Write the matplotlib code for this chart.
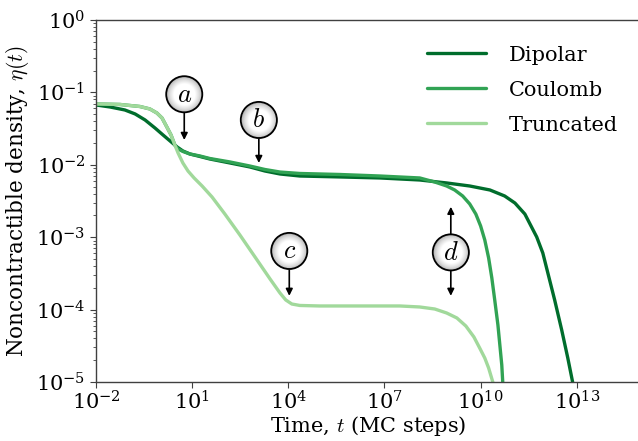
import numpy as np
import matplotlib
matplotlib.use('Agg')
import matplotlib.pyplot as plt
from matplotlib.ticker import LogLocator, NullLocator

plt.rcParams['font.family'] = 'DejaVu Serif'
plt.rcParams['mathtext.fontset'] = 'cm'

# exponents: t = 10**log_t, eta = 10**log_eta
dipolar_log_t = [-2.0, -1.56, -1.10, -0.78, -0.47, -0.16, 0.09, 0.31, 0.53, 0.71, 0.93, 1.24, 1.55,
                 2.18, 2.80, 3.27, 3.74, 4.36, 5.61, 6.86, 8.10, 8.94, 9.66, 10.29, 10.75, 11.07,
                 11.38, 11.75, 11.94, 12.09, 12.31, 12.53, 12.72, 12.87, 12.95]
dipolar_log_eta = [-1.174, -1.202, -1.243, -1.298, -1.381, -1.492, -1.588, -1.671, -1.754, -1.809, -1.851, -1.885, -1.92,
                   -1.975, -2.03, -2.086, -2.127, -2.155, -2.168, -2.182, -2.21, -2.251, -2.293, -2.348, -2.431, -2.528,
                   -2.68, -2.997, -3.218, -3.481, -3.867, -4.282, -4.669, -5.0, -5.2]

coulomb_log_t = [-2.0, -1.25, -0.63, -0.32, -0.10, 0.06, 0.21, 0.34, 0.46, 0.56, 0.71, 0.93, 1.24, 1.55,
                 2.18, 2.80, 3.27, 3.74, 4.36, 5.61, 6.86, 8.10, 8.57, 8.94, 9.19, 9.44, 9.66, 9.85,
                 10.0, 10.13, 10.25, 10.35, 10.44, 10.54, 10.60, 10.66, 10.69, 10.72]
coulomb_log_eta = [-1.16, -1.167, -1.195, -1.229, -1.285, -1.354, -1.478, -1.588, -1.727, -1.782, -1.816, -1.851, -1.878, -1.913,
                   -1.961, -2.017, -2.065, -2.10, -2.12, -2.134, -2.155, -2.182, -2.238, -2.293, -2.348, -2.431, -2.541, -2.68,
                   -2.845, -3.039, -3.287, -3.564, -3.867, -4.213, -4.489, -4.765, -5.0, -5.2]

truncated_log_t = [-2.0, -1.25, -0.63, -0.32, -0.10, 0.06, 0.21, 0.34, 0.46, 0.56, 0.71, 0.87, 1.06, 1.31,
                   1.62, 2.02, 2.49, 2.96, 3.43, 3.74, 3.92, 4.11, 4.36, 4.98, 7.48, 8.10, 8.57, 8.94,
                   9.26, 9.54, 9.79, 9.97, 10.13, 10.25, 10.38, 10.42]
truncated_log_eta = [-1.16, -1.167, -1.195, -1.229, -1.285, -1.354, -1.478, -1.588, -1.727, -1.837, -1.975, -2.086, -2.182, -2.293,
                     -2.445, -2.68, -2.97, -3.273, -3.577, -3.771, -3.867, -3.923, -3.943, -3.95, -3.95, -3.964, -3.992, -4.047,
                     -4.116, -4.227, -4.378, -4.53, -4.669, -4.807, -5.0, -5.1]

series_names = ['Dipolar', 'Coulomb', 'Truncated']
series_colors = ['#006d2c', '#31a354', '#a1d99b']

# markers: label, log t, log eta of circle centre, arrow tips (log eta)
marker_labels = ['a', 'b', 'c', 'd']
marker_log_t = [0.753, 3.08, 4.03, 9.07]
marker_log_eta = [-1.026, -1.381, -3.19, -3.21]
marker_tips = [[-1.657], [-1.975], [-3.81], [-2.58, -3.81]]


def main():
    fig = plt.figure(figsize=(6.38, 4.41), dpi=100)
    ax = fig.add_axes([0.1505, 0.1338, 0.854, 0.8209])

    curves = [(dipolar_log_t, dipolar_log_eta),
              (coulomb_log_t, coulomb_log_eta),
              (truncated_log_t, truncated_log_eta)]
    for (lt, le), name, col in zip(curves, series_names, series_colors):
        ax.plot(10.0 ** np.array(lt), 10.0 ** np.array(le), color=col, lw=2.4,
                label=name, solid_capstyle='round', solid_joinstyle='round')

    ax.set_xscale('log')
    ax.set_yscale('log')
    ax.set_xlim(1e-2, 1e15)
    ax.set_ylim(1e-5, 1e0)
    ax.set_xticks([10.0 ** k for k in range(-2, 14, 3)])
    ax.xaxis.set_minor_locator(NullLocator())
    ax.yaxis.set_minor_locator(LogLocator(base=10, subs=np.arange(2, 10), numticks=30))

    ax.spines['right'].set_visible(False)
    for s in ['left', 'bottom', 'top']:
        ax.spines[s].set_color('#404040')
        ax.spines[s].set_linewidth(1.0)
    ax.tick_params(which='major', labelsize=15, length=4, color='#404040')
    ax.tick_params(axis='x', which='major', pad=2)
    ax.tick_params(which='minor', length=2, color='#404040')

    ax.set_xlabel(r'Time, $t$ (MC steps)', fontsize=15, labelpad=0)
    ax.set_ylabel(r'Noncontractible density, $\eta(t)$', fontsize=15.5, labelpad=4)

    # circled markers with arrows
    diam = 26.0
    for lab, lt, le, tips in zip(marker_labels, marker_log_t, marker_log_eta, marker_tips):
        x = 10.0 ** lt
        y = 10.0 ** le
        for tip in tips:
            ax.annotate('', xy=(x, 10.0 ** tip), xytext=(x, y),
                        arrowprops=dict(arrowstyle='-|>', color='black', lw=1.2,
                                        mutation_scale=10, shrinkA=diam / 2, shrinkB=0),
                        zorder=5)
        for frac in np.linspace(1.0, 0.4, 16):
            g = 0.70 + 0.30 * min(1.0, (1.0 - frac) / 0.4) ** 0.7
            ax.scatter([x], [y], s=(diam * frac) ** 2, color=(g, g, g), lw=0, zorder=6)
        ax.scatter([x], [y], s=diam ** 2, facecolor='none', edgecolor='black', lw=1.3, zorder=7)
        ax.text(x, y, '$' + lab + '$', ha='center', va='center', fontsize=19, zorder=8)

    ax.legend(loc='upper right', frameon=False, fontsize=15, handlelength=2.8,
              handletextpad=1.1, labelspacing=0.77, borderaxespad=0.5,
              bbox_to_anchor=(0.992, 0.981))

    fig.savefig('out.png', dpi=100)


if __name__ == "__main__":
    main()
